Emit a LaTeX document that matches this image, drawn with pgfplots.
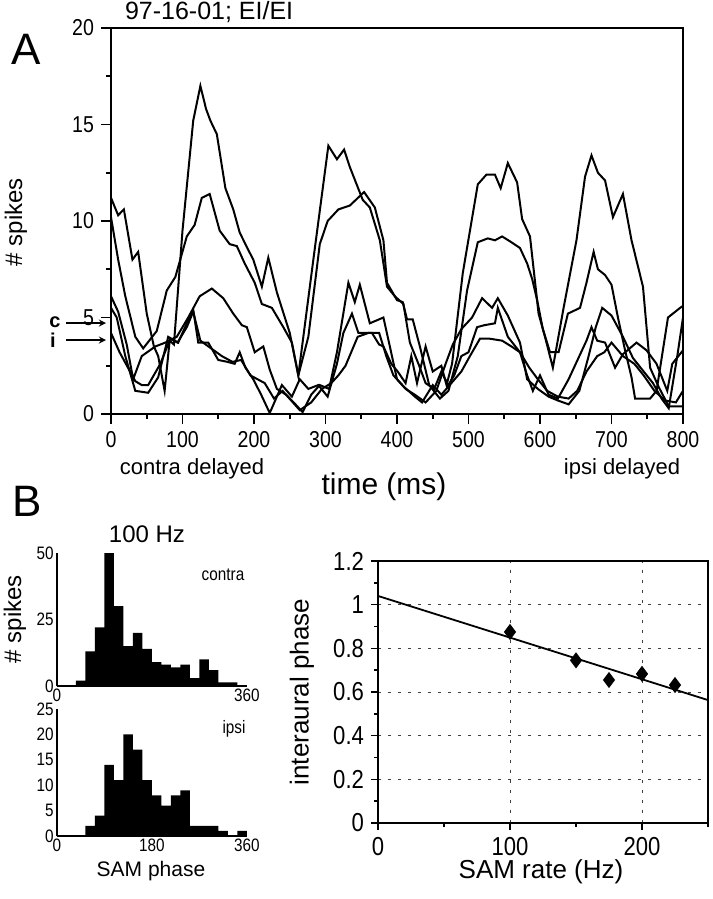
\documentclass[border=0pt]{standalone}
\usepackage{fontspec}
\setmainfont{Liberation Sans}
\newfontfamily\narrowfont[FakeStretch=0.85]{Liberation Sans}
\usepackage{pgfplots}
\pgfplotsset{compat=1.18}

\newcommand{\fs}[1]{\fontsize{#1}{#1}\selectfont}
\tikzset{trace/.style={black, line width=1pt, line join=miter, mark=none}}

\begin{document}
\begin{tikzpicture}
\path[use as bounding box] (0,0) rectangle (356pt,-449.5pt);

% ---------------- panel A ----------------
\begin{axis}[at={(55.5pt,-207pt)}, anchor=south west, scale only axis,
  width=286pt, height=193pt,
  xmin=0, xmax=800, ymin=0, ymax=20,
  xtick={0,100,...,800}, minor xtick={50,150,...,750},
  ytick={0,5,10,15,20}, minor ytick={2.5,7.5,12.5,17.5},
  xtick pos=bottom, ytick pos=left,
  tick align=outside, major tick length=5pt, minor tick length=2.5pt,
  every tick/.style={black, line width=0.9pt},
  axis line style={line width=1pt},
  /pgf/number format/assume math mode=true,
  ticklabel style={font=\narrowfont\fs{11.5}}]
\addplot[trace] coordinates {(0,11.2)(10,10.3)(18,10.6)(30,8.0)(38,8.4)(50,5.2)(60,3.5)(66,3.0)(75,1.2)(82,3.8)(88,3.6)(100,9.5)(115,15.2)(125,17.0)(133,15.8)(139,15.2)(148,14.5)(160,11.7)(171,10.6)(180,9.4)(192,8.5)(199,8.0)(211,6.6)(220,8.1)(232,6.3)(250,4.2)(262,2.0)(283,8.0)(304,13.9)(316,13.2)(326,13.7)(334,12.8)(352,11.1)(362,10.7)(376,9.0)(386,6.6)(397,6.1)(409,5.7)(418,3.7)(430,2.6)(440,1.6)(452,1.3)(462,2.2)(470,1.6)(477,2.6)(492,7.3)(513,11.9)(525,12.4)(537,12.4)(545,11.7)(555,13.0)(568,12.0)(575,10.1)(586,9.2)(598,5.2)(607,4.0)(618,2.4)(633,5.5)(651,9.0)(663,12.3)(672,13.4)(681,12.5)(691,12.1)(702,10.2)(716,11.4)(728,9.0)(744,6.6)(754,2.4)(766,1.4)(780,0.4)(800,0.4)};
\addplot[trace] coordinates {(0,10.2)(10,8.0)(20,6.1)(34,4.0)(45,3.4)(64,4.3)(78,6.4)(90,7.1)(106,9.2)(117,9.8)(127,11.2)(138,11.4)(152,9.5)(166,8.8)(176,8.7)(187,7.8)(201,6.8)(211,5.7)(225,5.5)(241,4.5)(253,3.7)(262,2.0)(276,4.0)(292,8.8)(303,10.0)(318,10.6)(334,10.8)(354,11.5)(369,10.7)(381,9.0)(386,6.8)(400,5.9)(408,5.8)(414,4.9)(422,4.9)(432,3.5)(445,1.5)(460,0.8)(472,1.2)(485,3.0)(498,6.4)(513,8.9)(527,9.1)(537,9.0)(547,9.2)(560,8.9)(572,8.6)(582,7.8)(589,7.0)(596,5.9)(604,4.4)(614,3.2)(626,3.2)(639,5.2)(656,5.5)(665,6.8)(675,8.4)(681,7.5)(691,7.2)(700,6.7)(709,5.0)(719,3.3)(728,1.9)(733,0.8)(754,0.8)(763,1.2)(779,5.0)(796,5.5)(800,5.6)};
\addplot[trace] coordinates {(0,6.1)(10,5.3)(22,3.6)(31,1.8)(43,3.0)(62,3.5)(76,3.7)(92,4.0)(108,5.0)(124,6.1)(141,6.5)(157,6.0)(171,5.2)(183,4.6)(190,4.5)(201,3.2)(213,3.5)(222,2.3)(232,1.3)(245,1.0)(258,0.5)(268,0.1)(280,1.0)(292,1.5)(305,1.3)(316,3.2)(332,6.8)(341,5.8)(348,6.7)(362,4.7)(381,5.0)(390,3.5)(400,1.8)(412,1.3)(425,1.0)(440,0.6)(455,1.2)(468,2.6)(478,3.6)(490,4.4)(505,5.0)(519,6.0)(533,5.5)(541,6.0)(555,5.1)(572,3.7)(582,1.8)(597,1.3)(612,0.9)(625,0.7)(640,0.5)(655,1.2)(668,3.0)(678,4.5)(687,5.5)(700,5.1)(716,4.0)(730,2.9)(745,2.2)(758,1.6)(770,0.8)(780,0.3)(792,3.0)(800,5.0)};
\addplot[trace] coordinates {(0,5.5)(8,5.0)(20,3.0)(34,1.2)(52,1.1)(66,1.9)(80,4.0)(94,3.7)(106,4.7)(115,5.4)(122,3.7)(136,3.7)(150,2.8)(163,2.7)(173,2.6)(180,3.2)(188,2.4)(199,1.8)(210,1.0)(222,0.05)(232,0.9)(239,1.5)(253,0.9)(264,1.8)(276,1.3)(290,1.5)(303,0.9)(316,2.6)(325,4.2)(337,5.2)(346,4.2)(365,4.2)(375,3.6)(381,3.5)(392,2.6)(401,2.2)(412,1.6)(420,3.0)(428,1.6)(440,3.5)(450,2.2)(462,2.5)(470,1.4)(480,2.0)(490,3.0)(500,3.2)(512,4.5)(522,4.6)(537,4.7)(541,5.5)(555,4.0)(572,3.2)(582,2.0)(590,1.2)(600,2.0)(612,1.0)(625,0.8)(640,1.8)(655,3.0)(665,3.8)(672,4.5)(680,3.8)(691,3.7)(705,2.4)(716,3.1)(735,3.7)(749,3.3)(763,2.6)(778,1.2)(785,2.6)(800,3.3)};
\addplot[trace] coordinates {(0,4.2)(12,3.2)(34,1.7)(43,1.5)(52,1.5)(69,2.6)(83,3.9)(93,3.7)(106,4.5)(115,5.3)(125,3.8)(140,3.4)(155,3.0)(170,2.7)(182,2.8)(195,2.0)(205,1.8)(215,1.6)(228,0.8)(240,1.2)(252,0.7)(264,0.2)(280,0.6)(295,1.3)(308,1.6)(318,2.0)(328,2.5)(345,4.0)(360,4.2)(375,4.2)(385,3.0)(395,2.0)(410,1.4)(425,0.9)(435,0.6)(450,1.5)(462,1.0)(476,1.6)(490,2.2)(502,3.0)(516,3.9)(530,3.9)(547,3.8)(560,3.5)(572,3.2)(585,2.4)(597,1.8)(610,1.2)(625,0.9)(640,0.8)(652,1.2)(665,2.2)(680,3.0)(690,3.2)(700,3.7)(716,3.0)(732,2.6)(745,2.0)(760,1.2)(775,0.7)(790,0.6)(800,1.2)};
\end{axis}

\node[font=\fs{22}] at (13pt,-24.5pt) {A};
\node[font=\fs{12.5}, anchor=base west] at (59pt,-10pt) {97-16-01; EI/EI};
\node[font=\fs{12}, rotate=90] at (8pt,-111pt) {\# spikes};
\node[font=\bfseries\fs{10}] at (27.5pt,-161pt) {c};
\node[font=\bfseries\fs{10}] at (26.5pt,-170pt) {i};
\draw[-stealth, line width=0.6pt] (33pt,-161.5pt) -- (53pt,-161.5pt);
\draw[-stealth, line width=0.6pt] (33pt,-170pt) -- (53pt,-170pt);
\node[font=\fs{11}] at (96pt,-234.5pt) {contra delayed};
\node[font=\fs{11}] at (311pt,-234.5pt) {ipsi delayed};
\node[font=\fs{15}] at (192pt,-243.5pt) {time (ms)};

% ---------------- panel B ----------------
\node[font=\fs{22}] at (13.5pt,-250.5pt) {B};
\node[font=\fs{12}] at (73.5pt,-267pt) {100 Hz};
\node[font=\fs{12}, rotate=90] at (7.5pt,-309.5pt) {\# spikes};
\node[font=\narrowfont\fs{9}] at (111.5pt,-287.5pt) {contra};
\node[font=\narrowfont\fs{9}] at (117pt,-364.5pt) {ipsi};
\node[font=\fs{10.5}] at (75.5pt,-435.5pt) {SAM phase};

\begin{axis}[at={(28.5pt,-343pt)}, anchor=south west, scale only axis,
  width=95pt, height=66.5pt,
  xmin=0, xmax=360, ymin=0, ymax=50,
  axis lines=left, axis line style={-, line width=0.9pt},
  xtick={0,360}, ytick={0,25,50}, major tick length=0pt,
  /pgf/number format/assume math mode=true,
  ticklabel style={font=\narrowfont\fs{9}, inner sep=1.5pt}]
\addplot[const plot, fill=black, draw=none] coordinates {(0,0)(18,0)(36,2)(54,13)(72,22)(90,50)(108,30)(126,15)(144,20)(162,14)(180,9)(198,8)(216,7)(234,8)(252,3)(270,10)(288,6)(306,1.4)(324,1.4)(342,0)(360,0)} \closedcycle;
\end{axis}

\begin{axis}[at={(28.5pt,-418pt)}, anchor=south west, scale only axis,
  width=95pt, height=63.5pt,
  xmin=0, xmax=360, ymin=0, ymax=25,
  axis lines=left, axis line style={-, line width=0.9pt},
  xtick={0,180,360}, ytick={0,5,10,15,20,25}, major tick length=0pt,
  /pgf/number format/assume math mode=true,
  ticklabel style={font=\narrowfont\fs{9}, inner sep=1.5pt}]
\addplot[const plot, fill=black, draw=none] coordinates {(0,0)(18,0)(36,0)(54,2)(72,4)(90,14)(108,11)(126,20)(144,17)(162,11)(180,8)(198,6)(216,8)(234,9)(252,2)(270,2)(288,2)(306,1)(324,0)(342,1)(360,1)} \closedcycle;
\end{axis}

\begin{axis}[at={(189pt,-411.5pt)}, anchor=south west, scale only axis,
  width=165pt, height=131pt,
  xmin=0, xmax=250, ymin=0, ymax=1.2,
  xtick={0,100,200}, minor xtick={50,150,250},
  ytick={0,0.2,0.4,0.6,0.8,1,1.2}, minor ytick={0.1,0.3,0.5,0.7,0.9,1.1},
  xtick pos=bottom, ytick pos=left,
  tick align=outside, major tick length=3.5pt, minor tick length=2pt,
  every tick/.style={black, line width=0.7pt},
  axis line style={line width=1pt},
  xmajorgrids, ymajorgrids,
  major grid style={black!75, line width=0.5pt, dash pattern=on 1.5pt off 3.5pt},
  /pgf/number format/assume math mode=true,
  ticklabel style={font=\narrowfont\fs{13}}]
\addplot[black, line width=0.9pt] coordinates {(0,1.04)(250,0.563)};
\addplot[only marks, mark=diamond*, mark size=3.7pt, black] coordinates {(100,0.875)(150,0.745)(175,0.655)(200,0.683)(225,0.632)};
\end{axis}
\node[font=\fs{13}, rotate=90] at (151pt,-346pt) {interaural phase};
\node[font=\fs{13}] at (270.5pt,-436pt) {SAM rate (Hz)};

\end{tikzpicture}
\end{document}
